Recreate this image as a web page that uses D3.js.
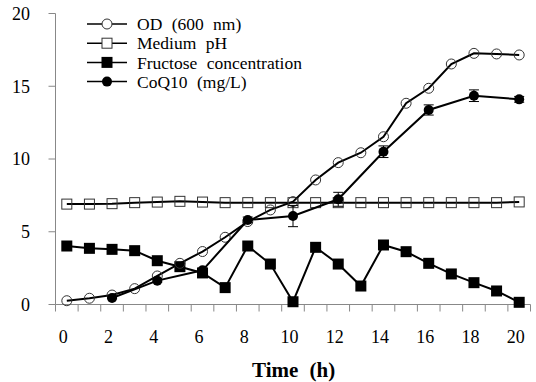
<!DOCTYPE html>
<html>
<head>
<meta charset="utf-8">
<script src="https://cdn.jsdelivr.net/npm/d3@7"></script>
<style>
  body { margin: 0; background: #fff; }
  svg text { font-family: "Liberation Serif", "Times New Roman", serif; fill: #000; }
  .axis-line { stroke: #888; stroke-width: 1; }
  .tick-line { stroke: #888; stroke-width: 1; }
</style>
</head>
<body>
<svg id="chart"></svg>
<script>
// hours (category axis 0..20)
const hours = d3.range(0, 21);
const xLabels = [0, 2, 4, 6, 8, 10, 12, 14, 16, 18, 20];
const yTicks = [0, 5, 10, 15, 20];

const odValues = [0.26, 0.43, 0.65, 1.09, 1.96, 2.83, 3.64, 4.62, 5.7, 6.5, 7.07,
  8.56, 9.75, 10.43, 11.53, 13.83, 14.86, 16.53, 17.26, 17.22, 17.15];
const phValues = [6.9, 6.9, 6.93, 7.0, 7.04, 7.09, 7.04, 7.0, 7.0, 7.0, 7.0,
  7.0, 7.0, 7.0, 7.0, 7.0, 7.0, 7.0, 7.0, 7.0, 7.05];
const fructoseValues = [4.02, 3.86, 3.79, 3.7, 3.01, 2.6, 2.17, 1.16, 4.02, 2.78, 0.19,
  3.93, 2.78, 1.27, 4.09, 3.63, 2.83, 2.1, 1.5, 0.93, 0.15];
const coqHours = [2, 4, 6, 8, 10, 12, 14, 16, 18, 20];
const coqValues = [0.45, 1.64, 2.35, 5.81, 6.08, 7.23, 10.5, 13.37, 14.35, 14.1];
const coqErrors = [0.05, 0.1, 0.1, 0.2, 0.73, 0.48, 0.4, 0.35, 0.4, 0.2];

const legendLabels = ['OD (600 nm)', 'Medium pH', 'Fructose concentration', 'CoQ10 (mg/L)'];

const width = 536, height = 382;
const svg = d3.select('#chart').attr('width', width).attr('height', height);

const x = d3.scaleLinear().domain([-0.5, 20.5]).range([55.5, 530.5]);
const y = d3.scaleLinear().domain([0, 20]).range([304.5, 13.5]);

// y axis
svg.append('line').attr('class', 'axis-line')
  .attr('x1', x(-0.5)).attr('x2', x(-0.5)).attr('y1', y(20)).attr('y2', y(0));
yTicks.forEach(t => {
  svg.append('line').attr('class', 'tick-line')
    .attr('x1', x(-0.5) - 7).attr('x2', x(-0.5)).attr('y1', y(t)).attr('y2', y(t));
  svg.append('text')
    .attr('x', 30).attr('y', y(t)).attr('dy', '0.35em')
    .attr('text-anchor', 'end').style('font-size', '18px')
    .text(t);
});

// x axis
svg.append('line').attr('class', 'axis-line')
  .attr('x1', x(-0.5)).attr('x2', x(20.5)).attr('y1', y(0)).attr('y2', y(0));
d3.range(0, 22).forEach(i => {
  svg.append('line').attr('class', 'tick-line')
    .attr('x1', x(i - 0.5)).attr('x2', x(i - 0.5)).attr('y1', y(0)).attr('y2', y(0) + 7);
});
xLabels.forEach(t => {
  svg.append('text')
    .attr('x', x(t) - 3.5).attr('y', 337).attr('dy', '0.35em')
    .attr('text-anchor', 'middle').style('font-size', '18px')
    .text(t);
});
svg.append('text')
  .attr('x', 252).attr('y', 370).attr('dy', '0.35em')
  .style('font-size', '21px').style('font-weight', 'bold')
  .style('word-spacing', '6px')
  .text('Time (h)');

const line = d3.line().x(d => x(d[0])).y(d => y(d[1]));

function drawSeries(xs, vals, marker) {
  const pts = xs.map((h, i) => [h, vals[i]]);
  svg.append('path').datum(pts)
    .attr('d', line).attr('fill', 'none')
    .attr('stroke', '#000').attr('stroke-width', 2);
  const g = svg.append('g');
  pts.forEach(p => drawMarker(g, x(p[0]), y(p[1]), marker, 'none'));
}

function drawMarker(g, cx, cy, marker, openFill) {
  if (marker === 'openCircle') {
    g.append('circle').attr('cx', cx).attr('cy', cy).attr('r', 5)
      .attr('fill', openFill).attr('stroke', '#333').attr('stroke-width', 1);
  } else if (marker === 'openSquare') {
    g.append('rect').attr('x', cx - 5).attr('y', cy - 5).attr('width', 10).attr('height', 10)
      .attr('fill', openFill).attr('stroke', '#333').attr('stroke-width', 1);
  } else if (marker === 'filledSquare') {
    g.append('rect').attr('x', cx - 5.5).attr('y', cy - 5.5).attr('width', 11).attr('height', 11)
      .attr('fill', '#000');
  } else {
    g.append('circle').attr('cx', cx).attr('cy', cy).attr('r', 5).attr('fill', '#000');
  }
}

drawSeries(hours, phValues, 'openSquare');
drawSeries(hours, fructoseValues, 'filledSquare');
drawSeries(hours, odValues, 'openCircle');

// error bars for CoQ10
coqHours.forEach((h, i) => {
  const e = coqErrors[i];
  const cx = x(h);
  svg.append('line').attr('x1', cx).attr('x2', cx)
    .attr('y1', y(coqValues[i] - e)).attr('y2', y(coqValues[i] + e))
    .attr('stroke', '#000').attr('stroke-width', 1);
  [coqValues[i] - e, coqValues[i] + e].forEach(v => {
    svg.append('line').attr('x1', cx - 5).attr('x2', cx + 5)
      .attr('y1', y(v)).attr('y2', y(v))
      .attr('stroke', '#000').attr('stroke-width', 1);
  });
});
drawSeries(coqHours, coqValues, 'filledCircle');

// legend
const markers = ['openCircle', 'openSquare', 'filledSquare', 'filledCircle'];
const legend = svg.append('g');
legendLabels.forEach((lab, i) => {
  const ly = 24 + i * 19.2;
  legend.append('line').attr('x1', 87).attr('x2', 127).attr('y1', ly).attr('y2', ly)
    .attr('stroke', '#000').attr('stroke-width', 1.5);
  drawMarker(legend, 107, ly, markers[i], '#fff');
  legend.append('text')
    .attr('x', 137).attr('y', ly).attr('dy', '0.35em')
    .style('font-size', '17.5px')
    .style('word-spacing', '5px')
    .text(lab);
});
</script>
</body>
</html>
